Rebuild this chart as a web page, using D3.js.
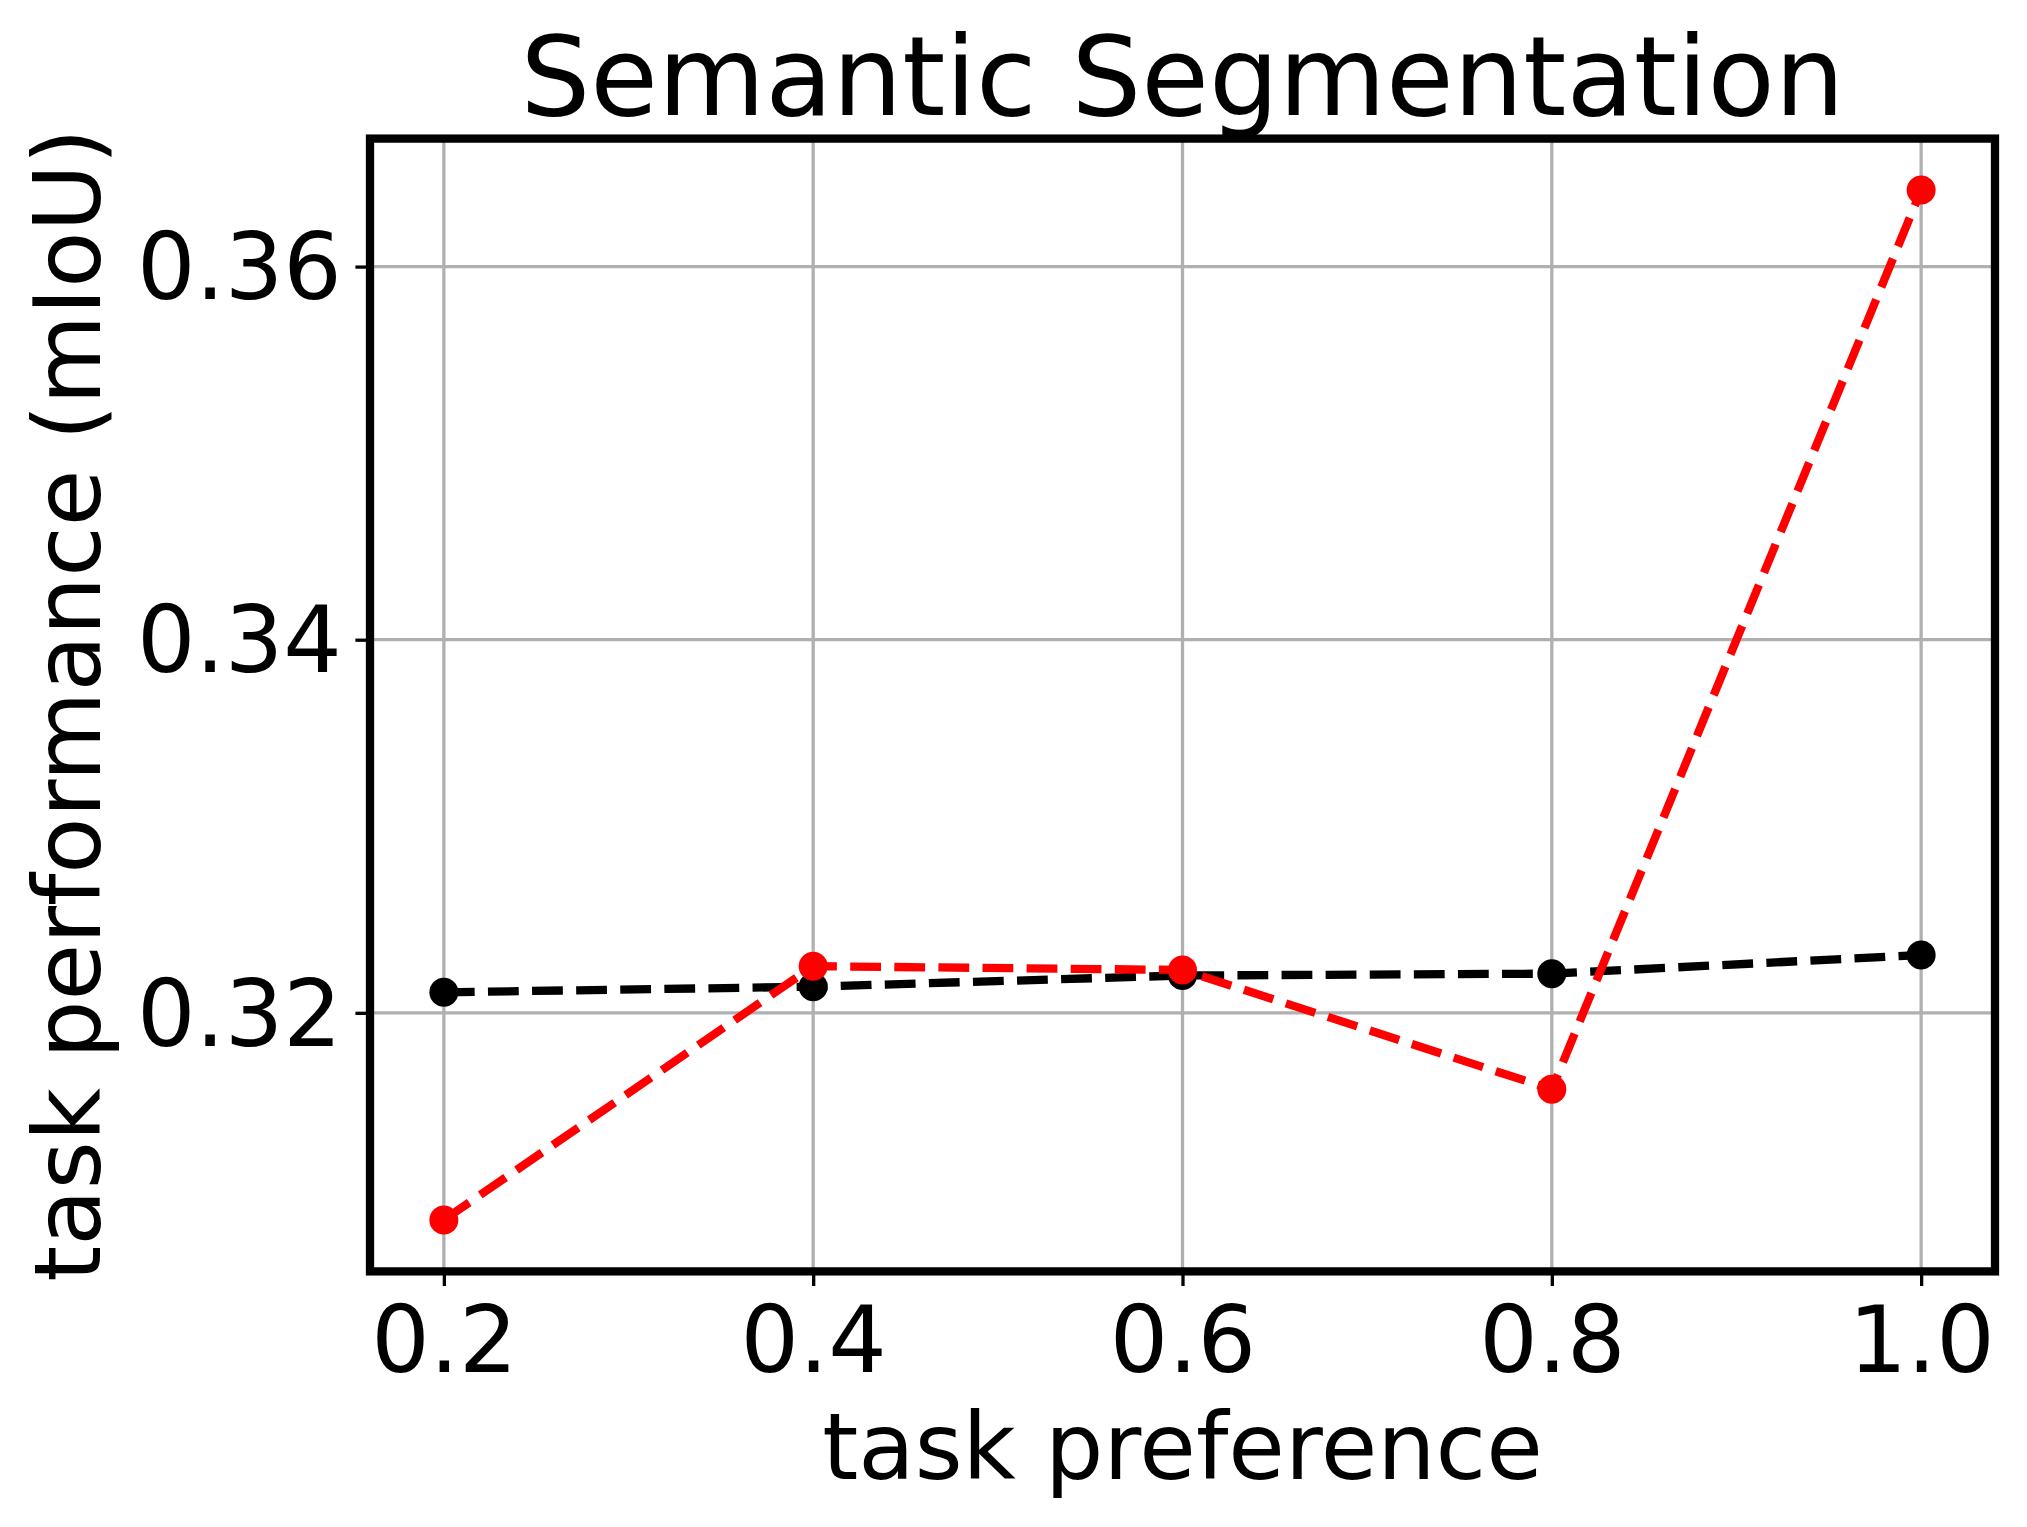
<!DOCTYPE html>
<html>
<head>
<meta charset="utf-8">
<script src="https://cdn.jsdelivr.net/npm/d3@7"></script>
<style>
  html, body { margin: 0; padding: 0; background: #fff; }
  svg { display: block; }
  text { font-family: "DejaVu Sans", sans-serif; fill: #000; }
</style>
</head>
<body>
<script>
// ---- data ----
const preferences = [0.2, 0.4, 0.6, 0.8, 1.0];
const seriesBlack = [0.3211, 0.3214, 0.3220, 0.3221, 0.3231];
const seriesRed   = [0.3089, 0.3225, 0.3223, 0.3159, 0.3641];
const xTicks = [0.2, 0.4, 0.6, 0.8, 1.0];
const yTicks = [0.32, 0.34, 0.36];
const titleText = "Semantic Segmentation";
const xLabelText = "task preference";
const yLabelText = "task performance (mIoU)";

// ---- layout ----
const W = 2027, H = 1527;
const L = 370, R = 1995, T = 138.6, B = 1271.4;
const tickLen = 14.6, tickPad = 14.6;

const svg = d3.select("body").append("svg").attr("width", W).attr("height", H);

// domains with matplotlib-like 5% margins
const xMin = d3.min(preferences), xMax = d3.max(preferences);
const xm = (xMax - xMin) * 0.05;
const allY = seriesBlack.concat(seriesRed);
const yMin = d3.min(allY), yMax = d3.max(allY);
const ym = (yMax - yMin) * 0.05;

const x = d3.scaleLinear().domain([xMin - xm, xMax + xm]).range([L, R]);
const y = d3.scaleLinear().domain([yMin - ym, yMax + ym]).range([B, T]);

// grid
const grid = svg.append("g");
grid.selectAll("line.gx").data(xTicks).join("line")
  .attr("x1", d => x(d)).attr("x2", d => x(d)).attr("y1", T).attr("y2", B)
  .attr("stroke", "#b0b0b0").attr("stroke-width", 3.3);
grid.selectAll("line.gy").data(yTicks).join("line")
  .attr("y1", d => y(d)).attr("y2", d => y(d)).attr("x1", L).attr("x2", R)
  .attr("stroke", "#b0b0b0").attr("stroke-width", 3.3);

// series
const clip = svg.append("clipPath").attr("id", "clip").append("rect")
  .attr("x", L).attr("y", T).attr("width", R - L).attr("height", B - T);

function drawSeries(vals, color) {
  const pts = preferences.map((p, i) => [p, vals[i]]);
  const line = d3.line().x(d => x(d[0])).y(d => y(d[1]));
  svg.append("path").datum(pts)
    .attr("d", line)
    .attr("fill", "none")
    .attr("stroke", color)
    .attr("stroke-width", 8.3)
    .attr("stroke-dasharray", "30.8,13.3")
    .attr("clip-path", "url(#clip)");
  svg.append("g").selectAll("circle").data(pts).join("circle")
    .attr("cx", d => x(d[0])).attr("cy", d => y(d[1]))
    .attr("r", 14.5).attr("fill", color);
}
drawSeries(seriesBlack, "#000000");
drawSeries(seriesRed, "#ff0000");

// axes via d3 axes
const xAxis = d3.axisBottom(x).tickValues(xTicks).tickFormat(d3.format(".1f"))
  .tickSize(tickLen).tickPadding(tickPad);
const gx = svg.append("g").attr("transform", `translate(0,${B})`).call(xAxis);
gx.select(".domain").remove();
gx.selectAll(".tick line").attr("stroke", "#000").attr("stroke-width", 3.3);
gx.selectAll(".tick text").attr("font-size", 92).attr("dy", null)
  .attr("y", 1372 - B).attr("font-family", "DejaVu Sans");

const yAxis = d3.axisLeft(y).tickValues(yTicks).tickFormat(d3.format(".2f"))
  .tickSize(tickLen).tickPadding(tickPad);
const gy = svg.append("g").attr("transform", `translate(${L},0)`).call(yAxis);
gy.select(".domain").remove();
gy.selectAll(".tick line").attr("stroke", "#000").attr("stroke-width", 3.3);
gy.selectAll(".tick text").attr("font-size", 92).attr("dy", "0.35em")
  .attr("x", -(tickLen + tickPad) + 1).attr("font-family", "DejaVu Sans");

// frame (spines)
svg.append("rect").attr("x", L).attr("y", T).attr("width", R - L).attr("height", B - T)
  .attr("fill", "none").attr("stroke", "#000").attr("stroke-width", 8.3);

// title & labels
svg.append("text").attr("x", (L + R) / 2).attr("y", 115)
  .attr("text-anchor", "middle").attr("font-size", 110).text(titleText);
svg.append("text").attr("x", (L + R) / 2).attr("y", 1479)
  .attr("text-anchor", "middle").attr("font-size", 92).text(xLabelText);
svg.append("text").attr("transform", `translate(100,${(T + B) / 2}) rotate(-90)`)
  .attr("text-anchor", "middle").attr("font-size", 92).text(yLabelText);
</script>
</body>
</html>
